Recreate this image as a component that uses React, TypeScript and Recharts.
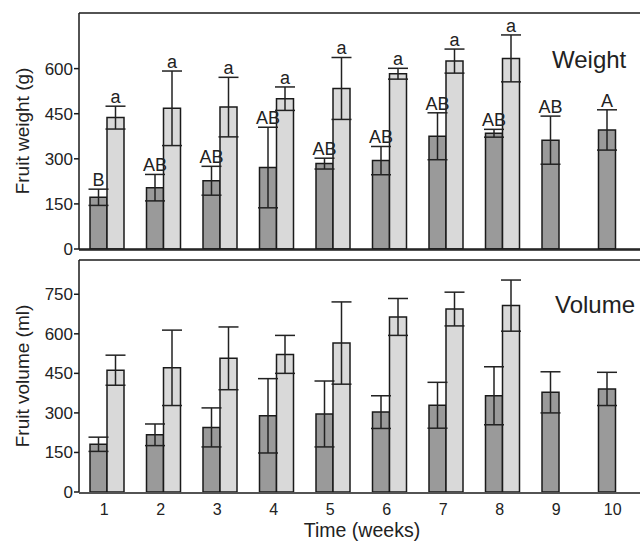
import React from 'react';
import {
  BarChart,
  Bar,
  XAxis,
  YAxis,
  ErrorBar,
  LabelList,
  ReferenceLine,
} from 'recharts';

// weeks on the x axis
const weeks = ['1', '2', '3', '4', '5', '6', '7', '8', '9', '10'];

// fruit weight (g)
const weightDark = [172, 204, 227, 271, 284, 294, 375, 385, 362, 396];
const weightDarkErr = [27, 44, 48, 134, 18, 47, 78, 13, 80, 67];
const weightLight = [437, 468, 472, 500, 534, 583, 625, 634, null, null];
const weightLightErr = [38, 124, 99, 39, 103, 18, 40, 78, null, null];
const darkLetters = ['B', 'AB', 'AB', 'AB', 'AB', 'AB', 'AB', 'AB', 'AB', 'A'];
const lightLetters = ['a', 'a', 'a', 'a', 'a', 'a', 'a', 'a', '', ''];

// fruit volume (ml)
const volumeDark = [181, 217, 245, 289, 296, 303, 329, 365, 378, 391];
const volumeDarkErr = [27, 41, 74, 141, 125, 62, 87, 110, 78, 63];
const volumeLight = [462, 471, 507, 522, 565, 664, 694, 707, null, null];
const volumeLightErr = [57, 143, 119, 72, 156, 70, 64, 97, null, null];

const weightTicks = [0, 150, 300, 450, 600];
const volumeTicks = [0, 150, 300, 450, 600, 750];
const boundaryTicks = [0, 1, 2, 3, 4, 5, 6, 7, 8, 9, 10];

const FONT = '"Liberation Sans", Arial, sans-serif';
const DARK = '#9a9a9a';
const LIGHT = '#d9d9d9';
const INK = '#1a1a1a';

const weightData = weeks.map((w, i) => ({
  week: w,
  dark: weightDark[i],
  darkErr: weightDarkErr[i],
  light: weightLight[i],
  lightErr: weightLightErr[i],
}));

const volumeData = weeks.map((w, i) => ({
  week: w,
  dark: volumeDark[i],
  darkErr: volumeDarkErr[i],
  light: volumeLight[i],
  lightErr: volumeLightErr[i],
}));

// letter sits just above the error bar cap
const letterLabel =
  (letters: string[], values: (number | null)[], errs: (number | null)[]) =>
  (props: any) => {
    const vb = props.viewBox || props;
    const i = props.index;
    const v = values[i];
    if (v == null || !letters[i]) return null;
    const x = Number(vb.x);
    const y = Number(vb.y);
    const w = Number(vb.width);
    const h = Number(vb.height);
    const top = y - (errs[i] ?? 0) * (h / v);
    return (
      <text
        x={x + w / 2}
        y={top - 3}
        textAnchor="middle"
        fontSize={18}
        fontFamily={FONT}
        fill="#222"
      >
        {letters[i]}
      </text>
    );
  };

const yTickStyle = { fill: '#222', fontSize: 17, fontFamily: FONT };
const xTickStyle = { fill: '#222', fontSize: 16, fontFamily: FONT };

export default function App() {
  return (
    <div
      style={{
        position: 'absolute',
        left: 0,
        top: 0,
        width: 640,
        height: 541,
        overflow: 'hidden',
        background: '#fff',
        fontFamily: FONT,
      }}
    >
      <div style={{ position: 'absolute', left: 0, top: 0 }}>
        <BarChart
          width={660}
          height={258}
          data={weightData}
          margin={{ top: 13, right: 16, bottom: 8, left: 0 }}
          barSize={17}
          barGap={0}
        >
          <XAxis dataKey="week" hide height={1} />
          <XAxis
            xAxisId="grid"
            type="number"
            domain={[0, 10]}
            ticks={boundaryTicks}
            interval={0}
            allowDataOverflow
            height={1}
            tick={false}
            tickSize={5}
            stroke={INK}
            strokeWidth={1.5}
          />
          <YAxis
            width={79}
            domain={[0, 785]}
            ticks={weightTicks}
            interval={0}
            allowDataOverflow
            tickSize={5}
            tickMargin={1}
            tick={yTickStyle}
            stroke={INK}
            strokeWidth={1.5}
            label={{
              value: 'Fruit weight (g)',
              angle: -90,
              position: 'center',
              dx: -17,
              fontSize: 19,
              fontFamily: FONT,
              fill: '#222',
            }}
          />
          <ReferenceLine y={785} stroke={INK} strokeWidth={1.5} />
          <ReferenceLine y={0} stroke={INK} strokeWidth={1.5} />
          <Bar dataKey="dark" fill={DARK} stroke={INK} strokeWidth={1.5} isAnimationActive={false}>
            <ErrorBar dataKey="darkErr" width={10} stroke="#222" strokeWidth={1.5} />
            <LabelList content={letterLabel(darkLetters, weightDark, weightDarkErr)} />
          </Bar>
          <Bar dataKey="light" fill={LIGHT} stroke={INK} strokeWidth={1.5} isAnimationActive={false}>
            <ErrorBar dataKey="lightErr" width={10} stroke="#222" strokeWidth={1.5} />
            <LabelList content={letterLabel(lightLetters, weightLight, weightLightErr)} />
          </Bar>
        </BarChart>
      </div>

      <div style={{ position: 'absolute', left: 0, top: 250 }}>
        <BarChart
          width={660}
          height={291}
          data={volumeData}
          margin={{ top: 10, right: 16, bottom: 47, left: 0 }}
          barSize={17}
          barGap={0}
        >
          <XAxis
            dataKey="week"
            height={1}
            interval={0}
            axisLine={false}
            tickLine={false}
            tickSize={6}
            tickMargin={6}
            tick={xTickStyle}
            dx={-3}
          />
          <XAxis
            xAxisId="grid"
            type="number"
            domain={[0, 10]}
            ticks={boundaryTicks}
            interval={0}
            allowDataOverflow
            height={1}
            tick={false}
            tickSize={5}
            stroke={INK}
            strokeWidth={1.5}
          />
          <YAxis
            width={79}
            domain={[0, 880]}
            ticks={volumeTicks}
            interval={0}
            allowDataOverflow
            tickSize={5}
            tickMargin={1}
            tick={yTickStyle}
            stroke={INK}
            strokeWidth={1.5}
            label={{
              value: 'Fruit volume (ml)',
              angle: -90,
              position: 'center',
              dx: -17,
              fontSize: 19,
              fontFamily: FONT,
              fill: '#222',
            }}
          />
          <ReferenceLine y={880} stroke={INK} strokeWidth={1.5} />
          <Bar dataKey="dark" fill={DARK} stroke={INK} strokeWidth={1.5} isAnimationActive={false}>
            <ErrorBar dataKey="darkErr" width={10} stroke="#222" strokeWidth={1.5} />
          </Bar>
          <Bar dataKey="light" fill={LIGHT} stroke={INK} strokeWidth={1.5} isAnimationActive={false}>
            <ErrorBar dataKey="lightErr" width={10} stroke="#222" strokeWidth={1.5} />
          </Bar>
        </BarChart>
      </div>

      <div
        style={{
          position: 'absolute',
          left: 552,
          top: 48,
          fontSize: 24,
          lineHeight: '24px',
          color: '#222',
        }}
      >
        Weight
      </div>
      <div
        style={{
          position: 'absolute',
          left: 555,
          top: 293,
          fontSize: 24,
          lineHeight: '24px',
          color: '#222',
        }}
      >
        Volume
      </div>
      <div
        style={{
          position: 'absolute',
          left: 262,
          width: 200,
          top: 521,
          textAlign: 'center',
          fontSize: 19.5,
          lineHeight: '19px',
          color: '#222',
        }}
      >
        Time (weeks)
      </div>
    </div>
  );
}
